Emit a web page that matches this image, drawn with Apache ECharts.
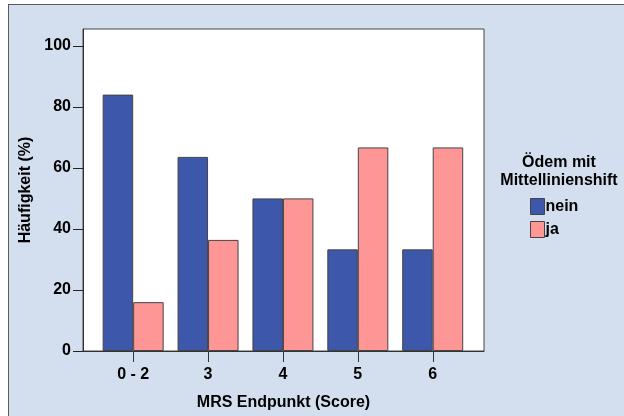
<!DOCTYPE html>
<html>
<head>
<meta charset="utf-8">
<script src="https://cdn.jsdelivr.net/npm/echarts@6/dist/echarts.min.js"></script>
<style>
  html, body { margin: 0; padding: 0; background: #ffffff; }
  #wrap { position: relative; width: 624px; height: 416px; overflow: hidden; }
  #bg { position: absolute; left: 8px; top: 4px; width: 616px; height: 412px; background: #d3dfee; border-left: 1px solid #5a5a5a; border-top: 1px solid #5a5a5a; box-sizing: border-box; }
  #chart { position: absolute; left: 0; top: 0; width: 624px; height: 416px; }
</style>
</head>
<body>
<div id="wrap"><div id="bg"></div><div id="chart"></div></div>
<script>
const categories = ['0 - 2', '3', '4', '5', '6'];
const seriesNames = ['nein', 'ja'];
const neinValues = [84.0, 63.6, 50.0, 33.3, 33.3];
const jaValues = [16.0, 36.4, 50.0, 66.7, 66.7];
const yTicks = [0, 20, 40, 60, 80, 100];
const legendTitle = 'Ödem mit\nMittellinienshift';
const xTitle = 'MRS Endpunkt (Score)';
const yTitle = 'Häufigkeit (%)';

const catIdx = categories.map((c, i) => i);
const FONT = 'Liberation Sans, Arial, sans-serif';

const chart = echarts.init(document.getElementById('chart'), null, { renderer: 'canvas' });
chart.setOption({
  backgroundColor: 'transparent',
  animation: false,
  textStyle: { fontFamily: FONT },
  grid: {
    left: 83, right: 140, top: 29, bottom: 65,
    show: true, backgroundColor: '#ffffff', borderColor: '#444444', borderWidth: 1
  },
  xAxis: {
    type: 'value',
    min: -0.67, max: 4.685,
    splitLine: { show: false },
    axisLine: { show: true, onZero: false, lineStyle: { color: '#333333', width: 1 } },
    axisTick: { show: false },
    axisLabel: {
      customValues: catIdx,
      formatter: v => categories[Math.round(v)] ?? '',
      color: '#000', fontWeight: 'bold', fontSize: 16, fontFamily: FONT, margin: 16
    },
    name: xTitle, nameLocation: 'middle', nameGap: 44,
    nameTextStyle: { color: '#000', fontWeight: 'bold', fontSize: 16, fontFamily: FONT }
  },
  yAxis: {
    type: 'value',
    min: 0, max: 105.5,
    splitLine: { show: false },
    axisLine: { show: true, onZero: false, lineStyle: { color: '#333333', width: 1 } },
    axisTick: { show: true, inside: false, customValues: yTicks, length: 10, lineStyle: { color: '#222222', width: 1 } },
    axisLabel: {
      customValues: yTicks,
      color: '#000', fontWeight: 'bold', fontSize: 16, fontFamily: FONT, margin: 12
    },
    name: yTitle, nameLocation: 'middle', nameGap: 48, nameRotate: 90,
    nameTextStyle: { color: '#000', fontWeight: 'bold', fontSize: 16, fontFamily: FONT }
  },
  legend: {
    orient: 'vertical',
    left: 530, top: 198, padding: 0,
    itemWidth: 14, itemHeight: 16, itemGap: 6,
    icon: 'rect',
    data: seriesNames,
    textStyle: { color: '#000', fontWeight: 'bold', fontSize: 16, fontFamily: FONT, padding: [0, 0, 0, -4] },
    itemStyle: { borderColor: '#444444', borderWidth: 1 }
  },
  graphic: [{
    type: 'text',
    left: 499, top: 154,
    style: {
      text: legendTitle, fill: '#000', font: 'bold 16px ' + FONT,
      textAlign: 'center', lineHeight: 18, width: 120
    }
  }],
  series: [
    {
      name: seriesNames[0], type: 'bar', barWidth: 30.5, barGap: '0%',
      data: neinValues.map((v, i) => [i, v]),
      itemStyle: { color: '#3d57aa', borderColor: '#444444', borderWidth: 1 }
    },
    {
      name: seriesNames[1], type: 'bar', barWidth: 30.5, barGap: '0%',
      data: jaValues.map((v, i) => [i, v]),
      itemStyle: { color: '#ff9696', borderColor: '#444444', borderWidth: 1 }
    }
  ]
});

// x-axis tick marks at category positions, placed through the axis scale
const tickLines = catIdx.map(i => {
  const p = chart.convertToPixel({ xAxisIndex: 0, yAxisIndex: 0 }, [i, 0]);
  const x = Math.round(p[0]) + 0.5;
  return {
    type: 'line', z: 100, silent: true,
    shape: { x1: x, y1: p[1], x2: x, y2: p[1] + 11 },
    style: { stroke: '#333333', lineWidth: 1 }
  };
});
chart.setOption({
  graphic: [{
    type: 'text',
    left: 499, top: 154,
    style: {
      text: legendTitle, fill: '#000', font: 'bold 16px ' + FONT,
      textAlign: 'center', lineHeight: 18, width: 120
    }
  }].concat(tickLines)
});
</script>
</body>
</html>
